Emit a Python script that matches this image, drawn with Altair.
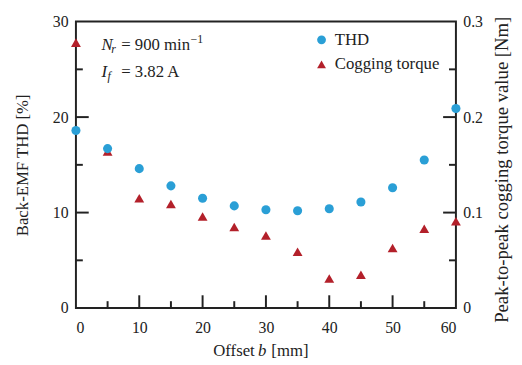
import altair as alt
import pandas as pd

# ---- data ----
offset_mm = [0, 5, 10, 15, 20, 25, 30, 35, 40, 45, 50, 55, 60]
thd_pct = [18.6, 16.7, 14.6, 12.8, 11.5, 10.7, 10.3, 10.2, 10.4, 11.1, 12.6, 15.5, 20.9]
cogging_nm = [0.278, 0.164, 0.115, 0.109, 0.096, 0.085, 0.076, 0.059, 0.031, 0.035, 0.063, 0.083, 0.091]

series_names = ["THD", "Cogging torque"]
series_colors = ["#2a9fd6", "#b3202a"]
series_shapes = ["circle", "triangle-up"]

x_ticks = [0, 10, 20, 30, 40, 50, 60]
x_major_inner = [10, 20, 30, 40, 50]
x_minor_inner = [5, 15, 25, 35, 45, 55]
thd_ticks = [0, 10, 20, 30]
thd_major_inner = [10, 20]
thd_minor_inner = [5, 15, 25]
cog_ticks = [0, 0.1, 0.2, 0.3]
cog_major_inner = [0.1, 0.2]
cog_minor_inner = [0.05, 0.15, 0.25]

FONT = "Liberation Serif"
INK = "#222222"
W, H = 386, 291
MAJ, MIN = 13, 7

df = pd.DataFrame({"offset": offset_mm, "thd": thd_pct, "cog": cogging_nm})

xscale = alt.Scale(domain=[0, 60], nice=False, zero=False)
y_thd = alt.Scale(domain=[0, 30], nice=False)
y_cog = alt.Scale(domain=[0, 0.3], nice=False)
color_scale = alt.Scale(domain=series_names, range=series_colors)
shape_scale = alt.Scale(domain=series_names, range=series_shapes)

legend = alt.Legend(title=None, orient="none", legendX=241, legendY=10,
                    labelFont=FONT, labelFontSize=17, labelColor=INK,
                    symbolSize=80, rowPadding=7, labelOffset=5, padding=0,
                    symbolStrokeWidth=0)

x_axis = alt.Axis(values=x_ticks, ticks=False, domain=False, grid=False,
                  labelFont=FONT, labelFontSize=16, labelColor=INK,
                  labelPadding=12, title=None)

thd_axis = alt.Axis(values=thd_ticks, ticks=False, domain=False, grid=False,
                    labelFont=FONT, labelFontSize=16, labelColor=INK, labelPadding=8,
                    title="Back-EMF THD [%]", titleFont=FONT, titleFontSize=17,
                    titleFontWeight="normal", titleColor=INK,
                    titleX=-54, titleY=H / 2, titleAngle=270,
                    titleBaseline="middle", titleAlign="center")

cog_axis = alt.Axis(values=cog_ticks, orient="right", ticks=False, domain=False, grid=False,
                    labelFont=FONT, labelFontSize=16, labelColor=INK, labelPadding=7,
                    labelExpr="datum.value == 0 ? '0' : format(datum.value, '.1f')",
                    title="Peak-to-peak cogging torque value [Nm]", titleFont=FONT,
                    titleFontSize=19, titleFontWeight="normal", titleColor=INK,
                    titleX=46, titleY=150, titleAngle=270,
                    titleBaseline="middle", titleAlign="center")

base = alt.Chart(df)

thd_pts = base.transform_calculate(series="'THD'").mark_point(
    filled=True, opacity=1, size=85, strokeWidth=0
).encode(
    x=alt.X("offset:Q", scale=xscale, axis=x_axis),
    y=alt.Y("thd:Q", scale=y_thd, axis=thd_axis),
    color=alt.Color("series:N", scale=color_scale, legend=legend),
    shape=alt.Shape("series:N", scale=shape_scale, legend=legend),
)

cog_pts = base.transform_calculate(series="'Cogging torque'").mark_point(
    filled=True, opacity=1, size=100, strokeWidth=0
).encode(
    x=alt.X("offset:Q", scale=xscale, axis=x_axis),
    y=alt.Y("cog:Q", scale=y_cog, axis=cog_axis),
    color=alt.Color("series:N", scale=color_scale, legend=legend),
    shape=alt.Shape("series:N", scale=shape_scale, legend=legend),
)


def vrules(vals, scale, axis, x0, x1):
    return alt.Chart(pd.DataFrame({"v": vals})).mark_rule(
        color=INK, strokeWidth=2).encode(
        y=alt.Y("v:Q", scale=scale, axis=axis),
        x=alt.value(x0), x2=alt.value(x1))


def hrules(vals, y0, y1):
    return alt.Chart(pd.DataFrame({"v": vals})).mark_rule(
        color=INK, strokeWidth=2).encode(
        x=alt.X("v:Q", scale=xscale, axis=x_axis),
        y=alt.value(y0), y2=alt.value(y1))


def txt(s, x, y, size=17, style="normal"):
    return alt.Chart(pd.DataFrame({"t": [s]})).mark_text(
        font=FONT, fontSize=size, fontStyle=style, color=INK,
        align="left", baseline="alphabetic").encode(
        text="t:N", x=alt.value(x), y=alt.value(y))


left_ticks = vrules(thd_major_inner, y_thd, thd_axis, 0, MAJ) + vrules(thd_minor_inner, y_thd, thd_axis, 0, MIN)
bottom_ticks = hrules(x_major_inner, H, H - MAJ) + hrules(x_minor_inner, H, H - MIN)
right_ticks = vrules(cog_major_inner, y_cog, cog_axis, W - MAJ, W) + vrules(cog_minor_inner, y_cog, cog_axis, W - MIN, W)

notes = (
    txt("N", 26, 28.5, 17, "italic")
    + txt("r", 36, 31.5, 12, "italic")
    + txt("= 900 min", 46, 28.5, 17)
    + txt("\u22121", 116.5, 22, 12)
    + txt("I", 26, 56.5, 17, "italic")
    + txt("f", 32, 59.5, 12, "italic")
    + txt("= 3.82 A", 46, 56.5, 17)
    + txt("Offset", 139.5, 340, 17)
    + txt("b", 185, 340, 17, "italic")
    + txt("[mm]", 198.5, 340, 17)
)

right_layer = alt.layer(cog_pts, right_ticks)
left_layer = alt.layer(thd_pts, left_ticks, bottom_ticks, notes)

chart = alt.layer(right_layer, left_layer).resolve_scale(
    y="independent"
).properties(
    width=W, height=H,
    autosize=alt.AutoSizeParams(type="none"),
    padding={"left": 69, "top": 11, "right": 59, "bottom": 55},
).configure(font=FONT).configure_view(
    stroke=INK, strokeWidth=2
)

chart.save("out.html", embed_options={"renderer": "svg", "actions": False})
